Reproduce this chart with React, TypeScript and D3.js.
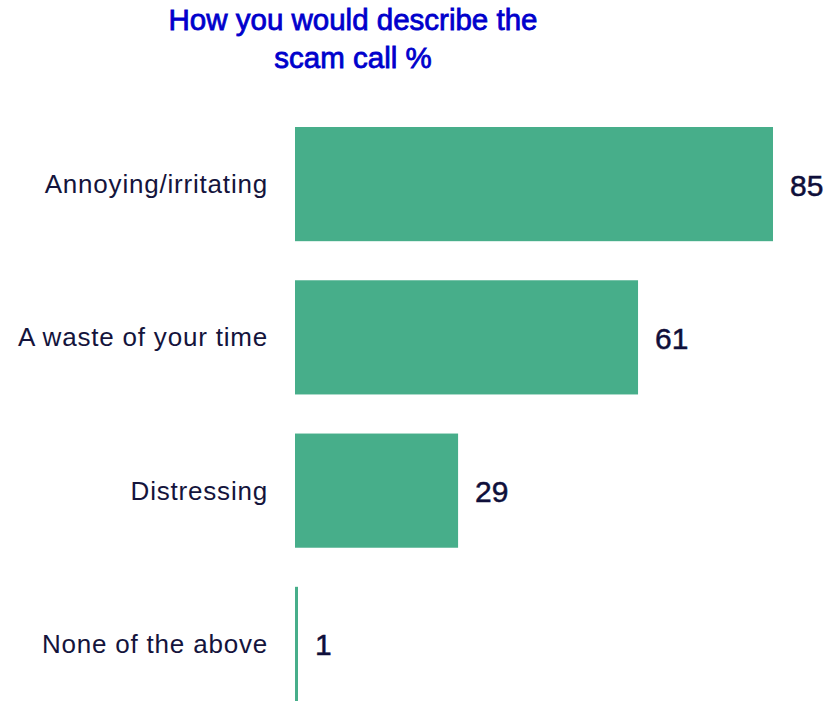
import React from "react";
import * as d3 from "d3";

const categories = ["Annoying/irritating", "A waste of your time", "Distressing", "None of the above"];
const values = [85, 61, 29, 1];
const titleLines = ["How you would describe the", "scam call %"];

const W = 834;
const H = 701;
const x0 = 295;

export default function App() {
  const x = d3.scaleLinear().domain([0, 85]).range([x0, 773]);
  const y = d3.scaleBand<string>().domain(categories).range([127, 701]).paddingInner(0.255).paddingOuter(0);
  return (
    <svg width={W} height={H} style={{ position: "absolute", left: 0, top: 0 }}>
      {titleLines.map((t, i) => (
        <text key={i} x={353} y={30 + i * 38} textAnchor="middle" fill="#0000cc"
          stroke="#0000cc" strokeWidth={0.8}
          style={{ font: "29.5px 'Liberation Sans', Arial, sans-serif" }}>{t}</text>
      ))}
      {categories.map((c, i) => {
        const yy = y(c)!;
        const bw = y.bandwidth();
        const w = Math.max(3, x(values[i]) - x0);
        return (
          <g key={c}>
            <rect x={x0} y={yy} width={i === 3 ? 3 : w} height={bw} fill="#47ae8a" />
            <text x={268} y={yy + bw / 2} textAnchor="end" dominantBaseline="central" fill="#14143c"
              letterSpacing={0.8}
              style={{ font: "26px 'Liberation Sans', Arial, sans-serif" }}>{c}</text>
            <text x={x0 + (i === 3 ? 3 : w) + 17} y={yy + bw / 2 + 1} dominantBaseline="central" fill="#0f0f3a"
              stroke="#0f0f3a" strokeWidth={0.5}
              style={{ font: "30px 'Liberation Sans', Arial, sans-serif" }}>{values[i]}</text>
          </g>
        );
      })}
    </svg>
  );
}
